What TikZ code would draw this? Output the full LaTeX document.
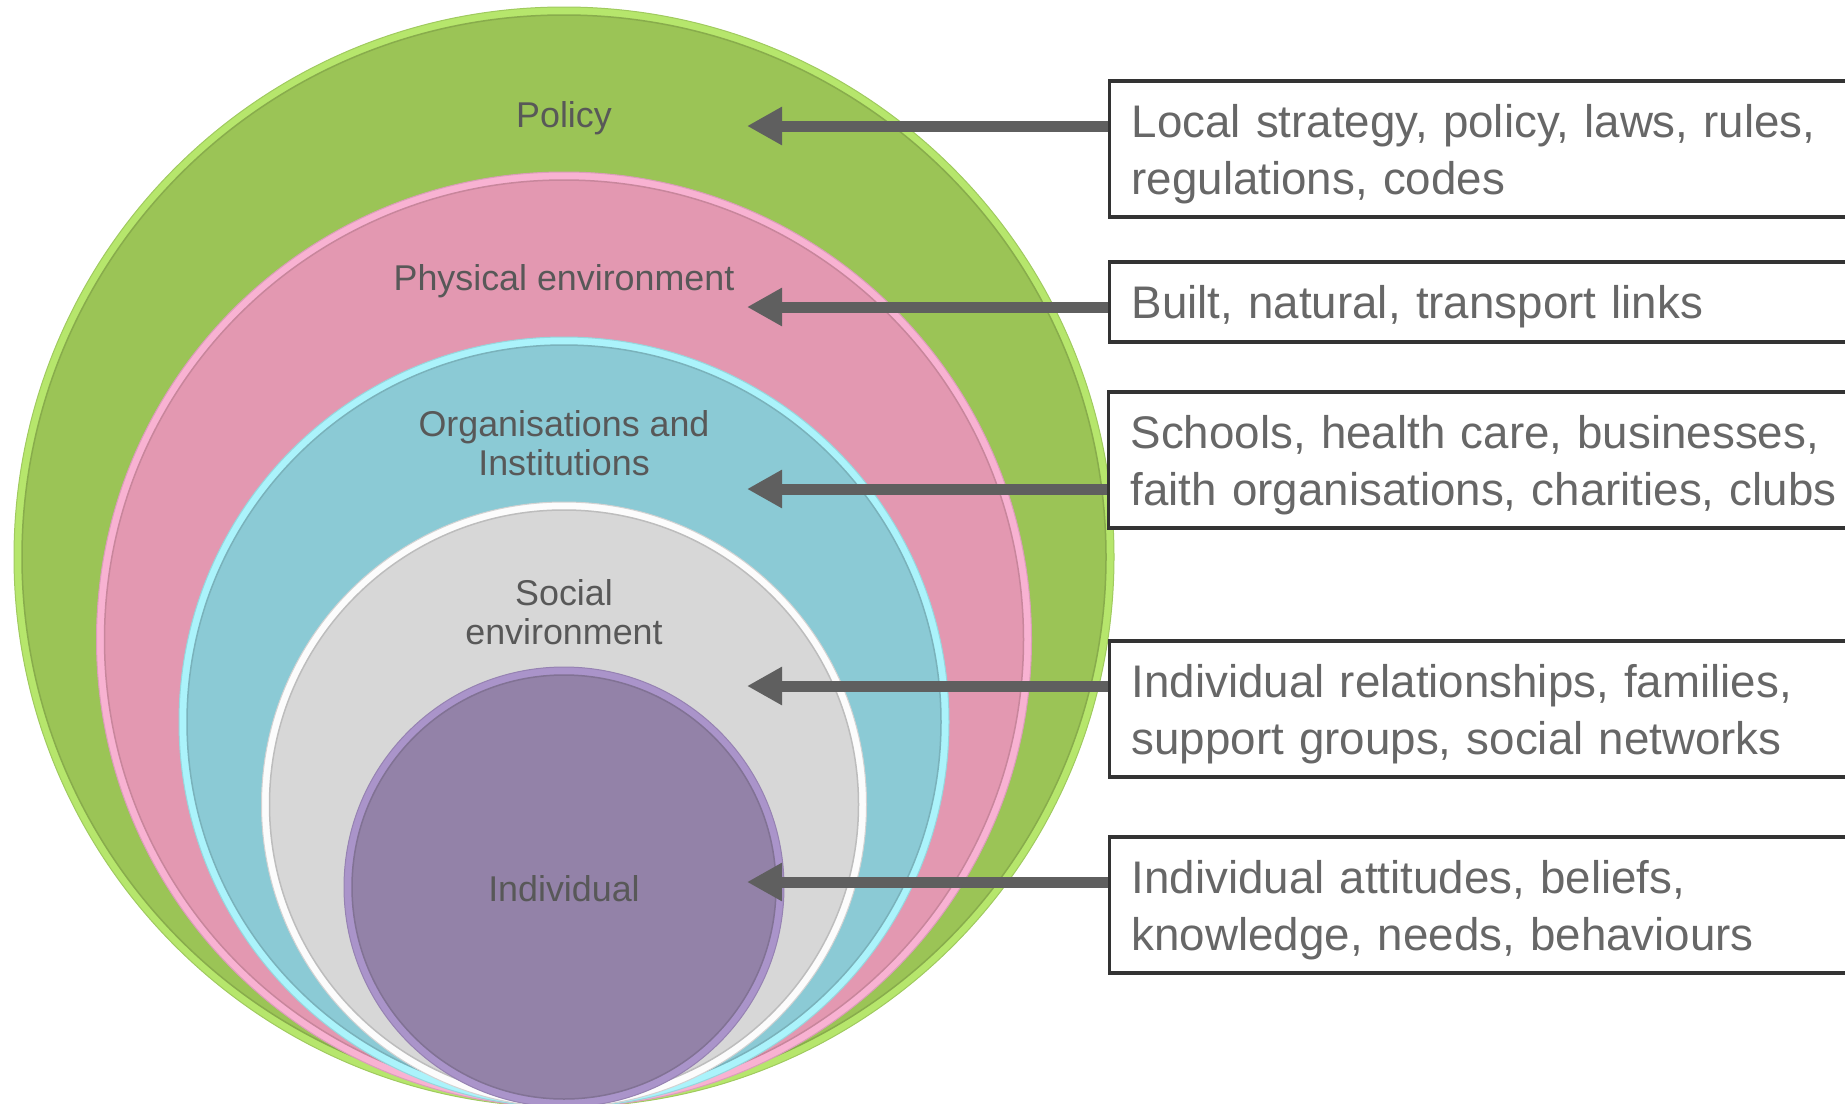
\documentclass[tikz,border=0pt]{standalone}
\usepackage{fontspec}
\setmainfont{Liberation Sans}
\usepackage{xcolor}
\usetikzlibrary{positioning,calc,arrows.meta}

\definecolor{policygreen}{HTML}{9BC456}
\definecolor{policyrim}{HTML}{B6E66C}
\definecolor{physpink}{HTML}{E398B1}
\definecolor{physrim}{HTML}{F8B2D2}
\definecolor{orgcyan}{HTML}{8BCAD5}
\definecolor{orgrim}{HTML}{ABF3FB}
\definecolor{socialgrey}{HTML}{D7D7D7}
\definecolor{socialrim}{HTML}{FCFCFC}
\definecolor{indivpurple}{HTML}{9382A8}
\definecolor{indivrim}{HTML}{AA94CA}
\definecolor{labelgrey}{HTML}{585858}
\definecolor{textgrey}{HTML}{676767}
\definecolor{arrowgrey}{HTML}{5F5F5F}
\definecolor{boxline}{HTML}{333333}

\begin{document}
\begin{tikzpicture}[x=0.2mm, y=-0.2mm,
    ringrim/.style={fill=#1, draw=#1!88!black, line width=0.2mm},
    ringfill/.style={fill=#1, draw=#1!88!black, line width=0.3mm},
    layerlabel/.style={text=labelgrey, align=center, font=\fontsize{20.4}{22.1}\selectfont},
    infobox/.style={draw=boxline, line width=0.66mm, fill=white, anchor=west, align=left,
        text width=148mm, inner xsep=4.4mm, text=textgrey, font=\fontsize{26}{32.3}\selectfont,
        execute at begin node={\rule{0pt}{8.6mm}}},
    pointer/.style={arrowgrey, line width=2.2mm, -{Triangle[length=7mm, width=7.2mm]}}]
    \useasboundingbox (0,0) rectangle (1845,1104);
    \clip (0,0) rectangle (1845,1104);

    % Nested circles, all resting on the bottom edge
    \fill[ringrim=policyrim] (564,557) circle (550);
    \draw[ringfill=policygreen] (564,557) circle (542);
    \fill[ringrim=physrim] (564,639.5) circle (467.5);
    \draw[ringfill=physpink] (564,639.5) circle (459.5);
    \fill[ringrim=orgrim] (564,722) circle (385);
    \draw[ringfill=orgcyan] (564,722) circle (377);
    \draw[ringrim=socialrim, draw=gray!35] (564,804.5) circle (302.5);
    \draw[ringfill=socialgrey] (564,804.5) circle (294.5);
    \fill[ringrim=indivrim] (564,887) circle (220);
    \draw[ringfill=indivpurple] (564,887) circle (212);

    % Layer names
    \node[layerlabel] (policy) at (564,118) {Policy};
    \node[layerlabel] (physical) at (564,281) {Physical environment};
    \node[layerlabel] (organisations) at (564,443) {Organisations and\\Institutions};
    \node[layerlabel] (social) at (564,612) {Social\\environment};
    \node[layerlabel] (individual) at (564,889) {Individual};

    % Arrow tips inside the rings
    \coordinate (tip1) at (747,126);
    \coordinate (tip2) at (747,307);
    \coordinate (tip3) at (747,489);
    \coordinate (tip4) at (747,686);
    \coordinate (tip5) at (747,882);

    % Description boxes
    \node[infobox, minimum height=27.2mm] (box1) at (1108,149) {Local strategy, policy, laws, rules,\\regulations, codes};
    \node[infobox, minimum height=16mm] (box2) at (1108,302) {Built, natural, transport links};
    \node[infobox, minimum height=27.2mm] (box3) at (1107,460) {Schools, health care, businesses,\\faith organisations, charities, clubs};
    \node[infobox, minimum height=27.2mm] (box4) at (1108,709) {Individual relationships, families,\\support groups, social networks};
    \node[infobox, minimum height=27.2mm] (box5) at (1108,905) {Individual attitudes, beliefs,\\knowledge, needs, behaviours};

    \draw[pointer] (box1.west |- tip1) -- (tip1);
    \draw[pointer] (box2.west |- tip2) -- (tip2);
    \draw[pointer] (box3.west |- tip3) -- (tip3);
    \draw[pointer] (box4.west |- tip4) -- (tip4);
    \draw[pointer] (box5.west |- tip5) -- (tip5);
\end{tikzpicture}
\end{document}
